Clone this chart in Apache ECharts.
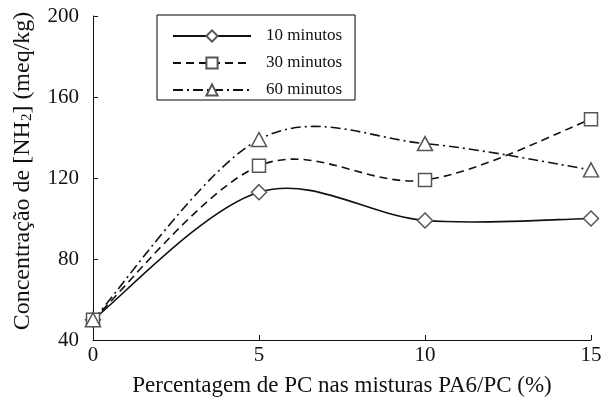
<!DOCTYPE html>
<html>
<head>
<meta charset="utf-8">
<script src="https://cdn.jsdelivr.net/npm/echarts@6/dist/echarts.min.js"></script>
<style>
  html, body { margin: 0; padding: 0; background: #fff; }
  #chart { width: 601px; height: 403px; }
</style>
</head>
<body>
<div id="chart"></div>
<script>
// valores
var pcPercent = [0, 5, 10, 15];
var min10 = [50, 113, 99, 100];
var min30 = [50, 126, 119, 149];
var min60 = [50, 139, 137, 124];
var seriesNames = ['10 minutos', '30 minutos', '60 minutos'];

var font = 'Liberation Serif';

function pairs(ys) {
    return pcPercent.map(function (x, i) { return [x, ys[i]]; });
}

// marcadores (a linha fica invisível, a curva é desenhada pela série custom)
function markSeries(name, ys, symbol, size, dash) {
    return {
        name: name,
        type: 'line',
        data: pairs(ys),
        symbol: symbol,
        symbolSize: size,
        showAllSymbol: true,
        lineStyle: { color: '#111', width: 1.6, type: dash, opacity: 0 },
        itemStyle: { color: '#fff', borderColor: '#555', borderWidth: 1.5 },
        z: 3
    };
}

// curva suave tipo catmull-rom passando pelos pontos, via escala do eixo
function curveSeries(name, ys, dash) {
    return {
        name: name + ' curva',
        type: 'custom',
        silent: true,
        z: 2,
        data: pairs(ys),
        encode: { x: 0, y: 1 },
        renderItem: function (params, api) {
            if (params.dataIndex !== 0) return null;
            var pts = pairs(ys).map(function (p) { return api.coord(p); });
            var n = pts.length;
            var d = 'M' + pts[0][0] + ' ' + pts[0][1];
            for (var i = 0; i < n - 1; i++) {
                var p0 = pts[Math.max(i - 1, 0)], p1 = pts[i], p2 = pts[i + 1], p3 = pts[Math.min(i + 2, n - 1)];
                var c1x = p1[0] + (p2[0] - p0[0]) / 6, c1y = p1[1] + (p2[1] - p0[1]) / 6;
                var c2x = p2[0] - (p3[0] - p1[0]) / 6, c2y = p2[1] - (p3[1] - p1[1]) / 6;
                d += ' C' + c1x + ' ' + c1y + ' ' + c2x + ' ' + c2y + ' ' + p2[0] + ' ' + p2[1];
            }
            return {
                type: 'path',
                shape: { pathData: d },
                style: { fill: null, stroke: '#111', lineWidth: 1.6, lineDash: dash }
            };
        }
    };
}

var myChart = echarts.init(document.getElementById('chart'));

var option = {
    animation: false,
    backgroundColor: '#fff',
    grid: { left: 93, right: 10, top: 16, bottom: 63, outerBoundsMode: 'none' },
    legend: {
        orient: 'vertical',
        left: 157,
        top: 15,
        padding: [11, 13, 0, 15],
        itemGap: 7,
        itemWidth: 78,
        itemHeight: 14,
        borderColor: '#000',
        borderWidth: 1,
        lineStyle: { opacity: 1 },
        textStyle: { fontFamily: font, fontSize: 17, color: '#111', lineHeight: 20, padding: [0, 0, 0, 10] },
        data: seriesNames
    },
    xAxis: {
        type: 'value',
        min: 0, max: 15, interval: 5,
        name: 'Percentagem de PC nas misturas PA6/PC (%)',
        nameLocation: 'middle',
        nameGap: 34,
        nameTextStyle: { fontFamily: font, fontSize: 23, color: '#111' },
        axisLine: { lineStyle: { color: '#111', width: 1 } },
        axisTick: { inside: true, length: 5, lineStyle: { color: '#111' } },
        axisLabel: { fontFamily: font, fontSize: 21, color: '#111', margin: 5 },
        splitLine: { show: false }
    },
    yAxis: {
        type: 'value',
        min: 40, max: 200, interval: 40,
        name: '{a|Concentração de [NH}{s|2}{a|] (meq/kg)}',
        nameLocation: 'middle',
        nameGap: 58,
        nameTextStyle: {
            fontFamily: font, fontSize: 24, color: '#111',
            padding: [0, 0, 0, 14],
            rich: {
                a: { fontFamily: font, fontSize: 24, color: '#111' },
                s: { fontFamily: font, fontSize: 15, color: '#111', verticalAlign: 'bottom', padding: [10, 0, 0, 0] }
            }
        },
        axisLine: { show: true, lineStyle: { color: '#111', width: 1 } },
        axisTick: { show: true, inside: true, length: 5, lineStyle: { color: '#111' } },
        axisLabel: { fontFamily: font, fontSize: 21, color: '#111', margin: 14 },
        splitLine: { show: false }
    },
    series: [
        curveSeries(seriesNames[0], min10, null),
        curveSeries(seriesNames[1], min30, [8, 5]),
        curveSeries(seriesNames[2], min60, [10, 4, 2, 4]),
        markSeries(seriesNames[0], min10, 'diamond', 15, 'solid'),
        markSeries(seriesNames[1], min30, 'rect', 13, [8, 5]),
        markSeries(seriesNames[2], min60, 'triangle', [15, 14], [10, 4, 2, 4])
    ]
};

myChart.setOption(option);
</script>
</body>
</html>
